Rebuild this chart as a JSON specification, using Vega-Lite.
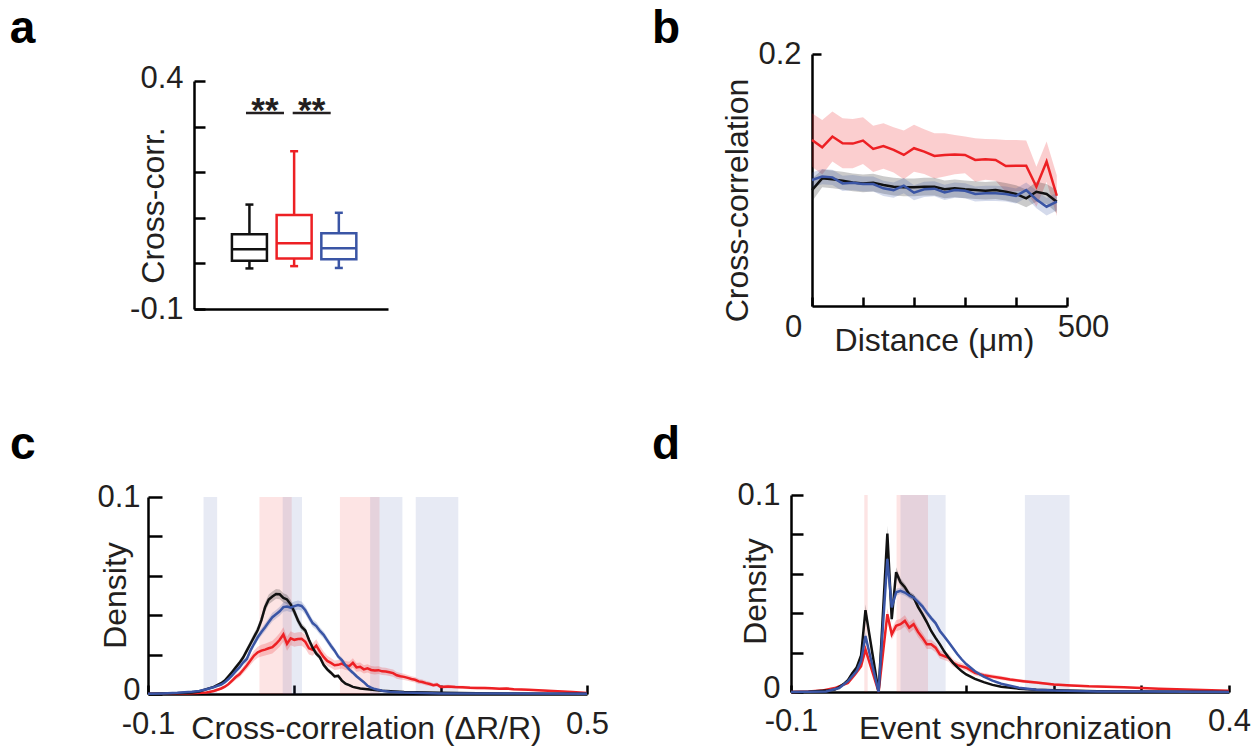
{
"$schema": "https://vega.github.io/schema/vega-lite/v6.json",
"width": 1259, "height": 753,
"autosize": {"type": "none"},
"padding": 0,
"background": "white",
"config": {
  "view": {"stroke": null},
  "font": "Liberation Sans",
  "axis": {"grid": false, "domainColor": "#000000", "domainWidth": 2.5, "tickColor": "#000000", "tickWidth": 2.5,
    "labelFont": "Liberation Sans", "labelFontSize": 31, "labelColor": "#231f20", "labelFlush": false, "labelOverlap": false, "labelBound": false,
    "titleFont": "Liberation Sans", "titleFontSize": 32, "titleFontWeight": "normal", "titleColor": "#231f20", "titleBaseline": "alphabetic"}
},
"datasets": {
  "boxes": [
    {"g": "ctrl", "pos": 1, "lo": -0.011, "q1": 0.006, "med": 0.031, "q3": 0.064, "hi": 0.129},
    {"g": "A", "pos": 2, "lo": -0.006, "q1": 0.011, "med": 0.044, "q3": 0.106, "hi": 0.246},
    {"g": "B", "pos": 3, "lo": -0.010, "q1": 0.009, "med": 0.033, "q3": 0.066, "hi": 0.111}
  ],
  "sig": [
    {"x1": 0.923, "x2": 1.773, "y": 0.33, "xm": 1.348, "label": "**"},
    {"x1": 1.968, "x2": 2.818, "y": 0.33, "xm": 2.393, "label": "**"}
  ],
  "bdist": [
    {"g":"A","x":0,"m":0.1318,"se":0.0212},{"g":"A","x":20,"m":0.126,"se":0.0217},{"g":"A","x":40,"m":0.1345,"se":0.0199},{"g":"A","x":60,"m":0.1292,"se":0.0199},{"g":"A","x":80,"m":0.1289,"se":0.0196},{"g":"A","x":100,"m":0.1313,"se":0.0186},{"g":"A","x":120,"m":0.1247,"se":0.0183},{"g":"A","x":140,"m":0.127,"se":0.0181},{"g":"A","x":160,"m":0.1239,"se":0.018},{"g":"A","x":180,"m":0.1199,"se":0.0194},{"g":"A","x":200,"m":0.1252,"se":0.0186},{"g":"A","x":220,"m":0.1225,"se":0.0178},{"g":"A","x":240,"m":0.1191,"se":0.018},{"g":"A","x":260,"m":0.1199,"se":0.0172},{"g":"A","x":280,"m":0.1202,"se":0.0156},{"g":"A","x":300,"m":0.1199,"se":0.0146},{"g":"A","x":320,"m":0.1159,"se":0.0173},{"g":"A","x":340,"m":0.1164,"se":0.0162},{"g":"A","x":360,"m":0.1159,"se":0.0165},{"g":"A","x":380,"m":0.1111,"se":0.0207},{"g":"A","x":400,"m":0.1114,"se":0.0204},{"g":"A","x":420,"m":0.1114,"se":0.0199},{"g":"A","x":440,"m":0.0947,"se":0.0159},{"g":"A","x":460,"m":0.1146,"se":0.0159},{"g":"A","x":480,"m":0.0875,"se":0.016},
    {"g":"ctrl","x":0,"m":0.092,"se":0.009},{"g":"ctrl","x":20,"m":0.1013,"se":0.007},{"g":"ctrl","x":40,"m":0.1005,"se":0.007},{"g":"ctrl","x":60,"m":0.0995,"se":0.007},{"g":"ctrl","x":80,"m":0.0981,"se":0.007},{"g":"ctrl","x":100,"m":0.0973,"se":0.007},{"g":"ctrl","x":120,"m":0.0979,"se":0.007},{"g":"ctrl","x":140,"m":0.096,"se":0.007},{"g":"ctrl","x":160,"m":0.0947,"se":0.007},{"g":"ctrl","x":180,"m":0.0942,"se":0.007},{"g":"ctrl","x":200,"m":0.0942,"se":0.007},{"g":"ctrl","x":220,"m":0.0947,"se":0.007},{"g":"ctrl","x":240,"m":0.0947,"se":0.007},{"g":"ctrl","x":260,"m":0.0926,"se":0.007},{"g":"ctrl","x":280,"m":0.0934,"se":0.007},{"g":"ctrl","x":300,"m":0.0926,"se":0.007},{"g":"ctrl","x":320,"m":0.092,"se":0.007},{"g":"ctrl","x":340,"m":0.0915,"se":0.007},{"g":"ctrl","x":360,"m":0.092,"se":0.007},{"g":"ctrl","x":380,"m":0.0907,"se":0.007},{"g":"ctrl","x":400,"m":0.0889,"se":0.007},{"g":"ctrl","x":420,"m":0.0854,"se":0.007},{"g":"ctrl","x":440,"m":0.0907,"se":0.008},{"g":"ctrl","x":460,"m":0.0889,"se":0.008},{"g":"ctrl","x":480,"m":0.0828,"se":0.009},
    {"g":"B","x":0,"m":0.1,"se":0.006},{"g":"B","x":20,"m":0.1027,"se":0.006},{"g":"B","x":40,"m":0.1021,"se":0.006},{"g":"B","x":60,"m":0.0973,"se":0.006},{"g":"B","x":80,"m":0.0979,"se":0.006},{"g":"B","x":100,"m":0.0968,"se":0.006},{"g":"B","x":120,"m":0.0968,"se":0.006},{"g":"B","x":140,"m":0.0934,"se":0.006},{"g":"B","x":160,"m":0.092,"se":0.006},{"g":"B","x":180,"m":0.0955,"se":0.006},{"g":"B","x":200,"m":0.0899,"se":0.006},{"g":"B","x":220,"m":0.0926,"se":0.006},{"g":"B","x":240,"m":0.0931,"se":0.006},{"g":"B","x":260,"m":0.0902,"se":0.006},{"g":"B","x":280,"m":0.092,"se":0.006},{"g":"B","x":300,"m":0.0915,"se":0.006},{"g":"B","x":320,"m":0.0889,"se":0.006},{"g":"B","x":340,"m":0.0894,"se":0.006},{"g":"B","x":360,"m":0.0894,"se":0.006},{"g":"B","x":380,"m":0.0889,"se":0.006},{"g":"B","x":400,"m":0.0873,"se":0.006},{"g":"B","x":420,"m":0.092,"se":0.006},{"g":"B","x":440,"m":0.0846,"se":0.007},{"g":"B","x":460,"m":0.0788,"se":0.007},{"g":"B","x":480,"m":0.0828,"se":0.007}
  ],
  "cspans": [
    {"g":"B","x0":-0.0241,"x1":-0.0055},{"g":"A","x0":0.0523,"x1":0.0964},{"g":"B","x0":0.0841,"x1":0.1105},
    {"g":"A","x0":0.1623,"x1":0.2164},{"g":"B","x0":0.2036,"x1":0.2477},{"g":"B","x0":0.2659,"x1":0.3241}
  ],
  "dspans": [
    {"g":"A","x0":-0.0163,"x1":-0.0125},{"g":"A","x0":0.0205,"x1":0.0564},{"g":"B","x0":0.025,"x1":0.0765},{"g":"B","x0":0.167,"x1":0.218}
  ],
  "cdens": [
    {"g":"A","x":-0.1,"m":0.0001,"se":0.0002},{"g":"A","x":-0.06,"m":0.0002,"se":0.0002},{"g":"A","x":-0.04,"m":0.0004,"se":0.0003},{"g":"A","x":-0.02,"m":0.0008,"se":0.0004},{"g":"A","x":-0.01,"m":0.0015,"se":0.0005},{"g":"A","x":0,"m":0.0028,"se":0.0007},{"g":"A","x":0.005,"m":0.0037,"se":0.0008},{"g":"A","x":0.01,"m":0.005,"se":0.001},{"g":"A","x":0.015,"m":0.0068,"se":0.0012},{"g":"A","x":0.02,"m":0.0086,"se":0.0014},{"g":"A","x":0.025,"m":0.01,"se":0.0016},{"g":"A","x":0.03,"m":0.0122,"se":0.0018},{"g":"A","x":0.035,"m":0.0145,"se":0.002},{"g":"A","x":0.04,"m":0.017,"se":0.0023},{"g":"A","x":0.045,"m":0.0195,"se":0.0026},{"g":"A","x":0.05,"m":0.0212,"se":0.0028},{"g":"A","x":0.055,"m":0.022,"se":0.003},{"g":"A","x":0.06,"m":0.0225,"se":0.003},{"g":"A","x":0.065,"m":0.0232,"se":0.0031},{"g":"A","x":0.07,"m":0.0238,"se":0.0032},{"g":"A","x":0.075,"m":0.0255,"se":0.0033},{"g":"A","x":0.08,"m":0.0275,"se":0.0035},{"g":"A","x":0.085,"m":0.0302,"se":0.0037},{"g":"A","x":0.09,"m":0.0255,"se":0.0035},{"g":"A","x":0.095,"m":0.0283,"se":0.0035},{"g":"A","x":0.1,"m":0.0275,"se":0.0035},{"g":"A","x":0.105,"m":0.0279,"se":0.0035},{"g":"A","x":0.11,"m":0.028,"se":0.0035},{"g":"A","x":0.115,"m":0.0265,"se":0.0034},{"g":"A","x":0.12,"m":0.0232,"se":0.0032},{"g":"A","x":0.125,"m":0.0225,"se":0.0031},{"g":"A","x":0.13,"m":0.0246,"se":0.0032},{"g":"A","x":0.135,"m":0.0215,"se":0.003},{"g":"A","x":0.14,"m":0.0188,"se":0.0028},{"g":"A","x":0.145,"m":0.0168,"se":0.0026},{"g":"A","x":0.15,"m":0.0158,"se":0.0025},{"g":"A","x":0.155,"m":0.0146,"se":0.0024},{"g":"A","x":0.16,"m":0.0148,"se":0.0024},{"g":"A","x":0.165,"m":0.0154,"se":0.0024},{"g":"A","x":0.17,"m":0.0145,"se":0.0023},{"g":"A","x":0.175,"m":0.0141,"se":0.0023},{"g":"A","x":0.18,"m":0.0158,"se":0.0024},{"g":"A","x":0.185,"m":0.0135,"se":0.0022},{"g":"A","x":0.19,"m":0.0138,"se":0.0022},{"g":"A","x":0.195,"m":0.0125,"se":0.0021},{"g":"A","x":0.2,"m":0.013,"se":0.0021},{"g":"A","x":0.205,"m":0.0122,"se":0.002},{"g":"A","x":0.21,"m":0.0119,"se":0.002},{"g":"A","x":0.215,"m":0.0121,"se":0.002},{"g":"A","x":0.22,"m":0.0115,"se":0.0019},{"g":"A","x":0.225,"m":0.0114,"se":0.0019},{"g":"A","x":0.23,"m":0.011,"se":0.0018},{"g":"A","x":0.235,"m":0.0106,"se":0.0018},{"g":"A","x":0.24,"m":0.0095,"se":0.0017},{"g":"A","x":0.245,"m":0.009,"se":0.0016},{"g":"A","x":0.25,"m":0.0087,"se":0.0016},{"g":"A","x":0.255,"m":0.0082,"se":0.0015},{"g":"A","x":0.26,"m":0.0076,"se":0.0014},{"g":"A","x":0.265,"m":0.0072,"se":0.0014},{"g":"A","x":0.27,"m":0.0064,"se":0.0013},{"g":"A","x":0.275,"m":0.0061,"se":0.0012},{"g":"A","x":0.28,"m":0.0055,"se":0.0012},{"g":"A","x":0.285,"m":0.0051,"se":0.0011},{"g":"A","x":0.29,"m":0.0045,"se":0.001},{"g":"A","x":0.295,"m":0.0048,"se":0.001},{"g":"A","x":0.3,"m":0.0036,"se":0.0009},{"g":"A","x":0.31,"m":0.0038,"se":0.0009},{"g":"A","x":0.32,"m":0.0035,"se":0.0008},{"g":"A","x":0.33,"m":0.0034,"se":0.0008},{"g":"A","x":0.34,"m":0.0032,"se":0.0008},{"g":"A","x":0.35,"m":0.0031,"se":0.0007},{"g":"A","x":0.36,"m":0.003,"se":0.0007},{"g":"A","x":0.37,"m":0.0029,"se":0.0007},{"g":"A","x":0.38,"m":0.0027,"se":0.0006},{"g":"A","x":0.39,"m":0.0028,"se":0.0006},{"g":"A","x":0.4,"m":0.0024,"se":0.0006},{"g":"A","x":0.42,"m":0.0021,"se":0.0005},{"g":"A","x":0.44,"m":0.0018,"se":0.0005},{"g":"A","x":0.46,"m":0.0014,"se":0.0004},{"g":"A","x":0.48,"m":0.001,"se":0.0004},{"g":"A","x":0.5,"m":0.0005,"se":0.0003},
    {"g":"ctrl","x":-0.1,"m":0.0001,"se":0.0002},{"g":"ctrl","x":-0.08,"m":0.0002,"se":0.0002},{"g":"ctrl","x":-0.06,"m":0.0004,"se":0.0002},{"g":"ctrl","x":-0.04,"m":0.0008,"se":0.0003},{"g":"ctrl","x":-0.03,"m":0.0013,"se":0.0004},{"g":"ctrl","x":-0.02,"m":0.0025,"se":0.0005},{"g":"ctrl","x":-0.01,"m":0.0036,"se":0.0006},{"g":"ctrl","x":0,"m":0.0055,"se":0.0008},{"g":"ctrl","x":0.005,"m":0.0068,"se":0.0009},{"g":"ctrl","x":0.01,"m":0.009,"se":0.001},{"g":"ctrl","x":0.015,"m":0.0112,"se":0.0011},{"g":"ctrl","x":0.02,"m":0.0135,"se":0.0012},{"g":"ctrl","x":0.025,"m":0.0158,"se":0.0013},{"g":"ctrl","x":0.03,"m":0.0185,"se":0.0014},{"g":"ctrl","x":0.035,"m":0.022,"se":0.0016},{"g":"ctrl","x":0.04,"m":0.0255,"se":0.0018},{"g":"ctrl","x":0.045,"m":0.029,"se":0.002},{"g":"ctrl","x":0.05,"m":0.0325,"se":0.0021},{"g":"ctrl","x":0.055,"m":0.0375,"se":0.0023},{"g":"ctrl","x":0.06,"m":0.0441,"se":0.0024},{"g":"ctrl","x":0.065,"m":0.048,"se":0.0025},{"g":"ctrl","x":0.07,"m":0.0495,"se":0.0025},{"g":"ctrl","x":0.075,"m":0.0508,"se":0.0025},{"g":"ctrl","x":0.08,"m":0.0506,"se":0.0025},{"g":"ctrl","x":0.085,"m":0.0488,"se":0.0024},{"g":"ctrl","x":0.09,"m":0.048,"se":0.0024},{"g":"ctrl","x":0.095,"m":0.0455,"se":0.0023},{"g":"ctrl","x":0.1,"m":0.0418,"se":0.0022},{"g":"ctrl","x":0.105,"m":0.0373,"se":0.002},{"g":"ctrl","x":0.11,"m":0.034,"se":0.0019},{"g":"ctrl","x":0.115,"m":0.0322,"se":0.0018},{"g":"ctrl","x":0.12,"m":0.0275,"se":0.0016},{"g":"ctrl","x":0.125,"m":0.0235,"se":0.0015},{"g":"ctrl","x":0.13,"m":0.0205,"se":0.0014},{"g":"ctrl","x":0.135,"m":0.0186,"se":0.0013},{"g":"ctrl","x":0.14,"m":0.0148,"se":0.0012},{"g":"ctrl","x":0.145,"m":0.0125,"se":0.0011},{"g":"ctrl","x":0.15,"m":0.0108,"se":0.001},{"g":"ctrl","x":0.155,"m":0.0089,"se":0.0009},{"g":"ctrl","x":0.16,"m":0.0092,"se":0.0009},{"g":"ctrl","x":0.165,"m":0.0068,"se":0.0008},{"g":"ctrl","x":0.17,"m":0.0052,"se":0.0007},{"g":"ctrl","x":0.175,"m":0.0045,"se":0.0006},{"g":"ctrl","x":0.18,"m":0.0036,"se":0.0005},{"g":"ctrl","x":0.19,"m":0.0028,"se":0.0004},{"g":"ctrl","x":0.2,"m":0.0024,"se":0.0004},{"g":"ctrl","x":0.22,"m":0.0016,"se":0.0003},{"g":"ctrl","x":0.25,"m":0.001,"se":0.0002},{"g":"ctrl","x":0.3,"m":0.0006,"se":0.0002},{"g":"ctrl","x":0.35,"m":0.0004,"se":0.0001},{"g":"ctrl","x":0.4,"m":0.0002,"se":0.0001},{"g":"ctrl","x":0.45,"m":0.0001,"se":0.0001},{"g":"ctrl","x":0.5,"m":0.0001,"se":0.0001},
    {"g":"B","x":-0.1,"m":0.0001,"se":0.0002},{"g":"B","x":-0.08,"m":0.0003,"se":0.0002},{"g":"B","x":-0.06,"m":0.0006,"se":0.0003},{"g":"B","x":-0.04,"m":0.0011,"se":0.0003},{"g":"B","x":-0.03,"m":0.0015,"se":0.0004},{"g":"B","x":-0.02,"m":0.0024,"se":0.0005},{"g":"B","x":-0.01,"m":0.0035,"se":0.0006},{"g":"B","x":0,"m":0.0048,"se":0.0007},{"g":"B","x":0.005,"m":0.006,"se":0.0008},{"g":"B","x":0.01,"m":0.0076,"se":0.0009},{"g":"B","x":0.015,"m":0.0095,"se":0.001},{"g":"B","x":0.02,"m":0.0116,"se":0.0011},{"g":"B","x":0.025,"m":0.0135,"se":0.0012},{"g":"B","x":0.03,"m":0.016,"se":0.0013},{"g":"B","x":0.035,"m":0.0178,"se":0.0014},{"g":"B","x":0.04,"m":0.022,"se":0.0016},{"g":"B","x":0.045,"m":0.0255,"se":0.0017},{"g":"B","x":0.05,"m":0.0288,"se":0.0018},{"g":"B","x":0.055,"m":0.0315,"se":0.0019},{"g":"B","x":0.06,"m":0.0339,"se":0.002},{"g":"B","x":0.065,"m":0.0365,"se":0.0021},{"g":"B","x":0.07,"m":0.039,"se":0.0022},{"g":"B","x":0.075,"m":0.0405,"se":0.0022},{"g":"B","x":0.08,"m":0.042,"se":0.0023},{"g":"B","x":0.085,"m":0.0441,"se":0.0023},{"g":"B","x":0.09,"m":0.0444,"se":0.0023},{"g":"B","x":0.095,"m":0.0438,"se":0.0023},{"g":"B","x":0.1,"m":0.0446,"se":0.0023},{"g":"B","x":0.105,"m":0.0452,"se":0.0023},{"g":"B","x":0.11,"m":0.0447,"se":0.0023},{"g":"B","x":0.115,"m":0.0425,"se":0.0022},{"g":"B","x":0.12,"m":0.0392,"se":0.0021},{"g":"B","x":0.125,"m":0.036,"se":0.002},{"g":"B","x":0.13,"m":0.0345,"se":0.002},{"g":"B","x":0.135,"m":0.032,"se":0.0019},{"g":"B","x":0.14,"m":0.03,"se":0.0018},{"g":"B","x":0.145,"m":0.0272,"se":0.0017},{"g":"B","x":0.15,"m":0.0245,"se":0.0016},{"g":"B","x":0.155,"m":0.022,"se":0.0015},{"g":"B","x":0.16,"m":0.019,"se":0.0014},{"g":"B","x":0.165,"m":0.0172,"se":0.0013},{"g":"B","x":0.17,"m":0.0145,"se":0.0012},{"g":"B","x":0.175,"m":0.0125,"se":0.0011},{"g":"B","x":0.18,"m":0.0108,"se":0.001},{"g":"B","x":0.185,"m":0.009,"se":0.0009},{"g":"B","x":0.19,"m":0.0075,"se":0.0008},{"g":"B","x":0.195,"m":0.006,"se":0.0007},{"g":"B","x":0.2,"m":0.0042,"se":0.0006},{"g":"B","x":0.205,"m":0.0032,"se":0.0005},{"g":"B","x":0.21,"m":0.0025,"se":0.0004},{"g":"B","x":0.22,"m":0.0017,"se":0.0003},{"g":"B","x":0.23,"m":0.0011,"se":0.0003},{"g":"B","x":0.25,"m":0.0007,"se":0.0002},{"g":"B","x":0.3,"m":0.0003,"se":0.0001},{"g":"B","x":0.4,"m":0.0002,"se":0.0001},{"g":"B","x":0.5,"m":0.0001,"se":0.0001}
  ],
  "ddens": [
    {"g":"A","x":-0.1,"m":0,"se":0.0001},{"g":"A","x":-0.08,"m":0.0002,"se":0.0001},{"g":"A","x":-0.065,"m":0.0007,"se":0.0002},{"g":"A","x":-0.05,"m":0.002,"se":0.0004},{"g":"A","x":-0.035,"m":0.0046,"se":0.0007},{"g":"A","x":-0.027,"m":0.0089,"se":0.001},{"g":"A","x":-0.02,"m":0.0131,"se":0.0013},{"g":"A","x":-0.015,"m":0.0216,"se":0.002},{"g":"A","x":0,"m":0,"se":0.0002},{"g":"A","x":0.01,"m":0.0395,"se":0.003},{"g":"A","x":0.015,"m":0.0293,"se":0.0028},{"g":"A","x":0.02,"m":0.0336,"se":0.0028},{"g":"A","x":0.025,"m":0.0344,"se":0.0028},{"g":"A","x":0.03,"m":0.0361,"se":0.0028},{"g":"A","x":0.035,"m":0.0327,"se":0.0027},{"g":"A","x":0.04,"m":0.0344,"se":0.0027},{"g":"A","x":0.045,"m":0.0305,"se":0.0026},{"g":"A","x":0.05,"m":0.0276,"se":0.0025},{"g":"A","x":0.055,"m":0.0242,"se":0.0024},{"g":"A","x":0.06,"m":0.0242,"se":0.0024},{"g":"A","x":0.065,"m":0.0225,"se":0.0023},{"g":"A","x":0.07,"m":0.0191,"se":0.0021},{"g":"A","x":0.08,"m":0.0174,"se":0.002},{"g":"A","x":0.085,"m":0.0148,"se":0.0018},{"g":"A","x":0.09,"m":0.0136,"se":0.0017},{"g":"A","x":0.1,"m":0.0123,"se":0.0015},{"g":"A","x":0.11,"m":0.0097,"se":0.0013},{"g":"A","x":0.12,"m":0.0085,"se":0.0012},{"g":"A","x":0.13,"m":0.0078,"se":0.0011},{"g":"A","x":0.14,"m":0.0071,"se":0.001},{"g":"A","x":0.15,"m":0.0063,"se":0.0009},{"g":"A","x":0.165,"m":0.0055,"se":0.0008},{"g":"A","x":0.18,"m":0.0048,"se":0.0007},{"g":"A","x":0.2,"m":0.0038,"se":0.0006},{"g":"A","x":0.22,"m":0.0033,"se":0.0006},{"g":"A","x":0.24,"m":0.0029,"se":0.0005},{"g":"A","x":0.26,"m":0.0027,"se":0.0005},{"g":"A","x":0.28,"m":0.0024,"se":0.0004},{"g":"A","x":0.3,"m":0.002,"se":0.0004},{"g":"A","x":0.32,"m":0.0017,"se":0.0003},{"g":"A","x":0.34,"m":0.0014,"se":0.0003},{"g":"A","x":0.36,"m":0.0012,"se":0.0003},{"g":"A","x":0.38,"m":0.0009,"se":0.0002},{"g":"A","x":0.4,"m":0.0006,"se":0.0002},
    {"g":"ctrl","x":-0.1,"m":0,"se":0.0001},{"g":"ctrl","x":-0.08,"m":0.0001,"se":0.0001},{"g":"ctrl","x":-0.06,"m":0.0007,"se":0.0002},{"g":"ctrl","x":-0.05,"m":0.0012,"se":0.0003},{"g":"ctrl","x":-0.045,"m":0.0025,"se":0.0004},{"g":"ctrl","x":-0.04,"m":0.004,"se":0.0006},{"g":"ctrl","x":-0.035,"m":0.006,"se":0.0008},{"g":"ctrl","x":-0.03,"m":0.0095,"se":0.001},{"g":"ctrl","x":-0.025,"m":0.0125,"se":0.0012},{"g":"ctrl","x":-0.02,"m":0.0185,"se":0.0015},{"g":"ctrl","x":-0.015,"m":0.0415,"se":0.003},{"g":"ctrl","x":0,"m":0,"se":0.0002},{"g":"ctrl","x":0.01,"m":0.0804,"se":0.004},{"g":"ctrl","x":0.015,"m":0.037,"se":0.002},{"g":"ctrl","x":0.02,"m":0.0608,"se":0.0025},{"g":"ctrl","x":0.025,"m":0.0557,"se":0.002},{"g":"ctrl","x":0.03,"m":0.0532,"se":0.0018},{"g":"ctrl","x":0.035,"m":0.0495,"se":0.0017},{"g":"ctrl","x":0.04,"m":0.048,"se":0.0016},{"g":"ctrl","x":0.045,"m":0.0432,"se":0.0015},{"g":"ctrl","x":0.05,"m":0.0395,"se":0.0014},{"g":"ctrl","x":0.055,"m":0.0355,"se":0.0013},{"g":"ctrl","x":0.06,"m":0.031,"se":0.0012},{"g":"ctrl","x":0.065,"m":0.0275,"se":0.0011},{"g":"ctrl","x":0.07,"m":0.0242,"se":0.001},{"g":"ctrl","x":0.075,"m":0.0205,"se":0.0009},{"g":"ctrl","x":0.08,"m":0.0175,"se":0.0008},{"g":"ctrl","x":0.085,"m":0.0148,"se":0.0007},{"g":"ctrl","x":0.09,"m":0.0125,"se":0.0006},{"g":"ctrl","x":0.095,"m":0.0105,"se":0.0006},{"g":"ctrl","x":0.1,"m":0.0089,"se":0.0005},{"g":"ctrl","x":0.11,"m":0.0067,"se":0.0004},{"g":"ctrl","x":0.12,"m":0.005,"se":0.0003},{"g":"ctrl","x":0.13,"m":0.0036,"se":0.0003},{"g":"ctrl","x":0.14,"m":0.0027,"se":0.0002},{"g":"ctrl","x":0.16,"m":0.0017,"se":0.0002},{"g":"ctrl","x":0.18,"m":0.0012,"se":0.0001},{"g":"ctrl","x":0.2,"m":0.0009,"se":0.0001},{"g":"ctrl","x":0.25,"m":0.0004,"se":0.0001},{"g":"ctrl","x":0.3,"m":0.0002,"se":0.0001},{"g":"ctrl","x":0.35,"m":0.0001,"se":0.0001},{"g":"ctrl","x":0.4,"m":0,"se":0.0001},
    {"g":"B","x":-0.1,"m":0,"se":0.0001},{"g":"B","x":-0.08,"m":0.0001,"se":0.0001},{"g":"B","x":-0.06,"m":0.0003,"se":0.0001},{"g":"B","x":-0.045,"m":0.002,"se":0.0003},{"g":"B","x":-0.035,"m":0.0055,"se":0.0006},{"g":"B","x":-0.025,"m":0.0106,"se":0.0009},{"g":"B","x":-0.02,"m":0.0157,"se":0.0012},{"g":"B","x":-0.015,"m":0.0284,"se":0.002},{"g":"B","x":0,"m":0,"se":0.0002},{"g":"B","x":0.01,"m":0.0676,"se":0.003},{"g":"B","x":0.015,"m":0.0429,"se":0.002},{"g":"B","x":0.02,"m":0.0506,"se":0.0018},{"g":"B","x":0.025,"m":0.0514,"se":0.0017},{"g":"B","x":0.03,"m":0.0505,"se":0.0017},{"g":"B","x":0.035,"m":0.049,"se":0.0016},{"g":"B","x":0.04,"m":0.048,"se":0.0016},{"g":"B","x":0.045,"m":0.0458,"se":0.0015},{"g":"B","x":0.05,"m":0.0435,"se":0.0015},{"g":"B","x":0.055,"m":0.0404,"se":0.0014},{"g":"B","x":0.06,"m":0.0375,"se":0.0013},{"g":"B","x":0.065,"m":0.035,"se":0.0013},{"g":"B","x":0.07,"m":0.031,"se":0.0012},{"g":"B","x":0.075,"m":0.0282,"se":0.0011},{"g":"B","x":0.08,"m":0.0252,"se":0.001},{"g":"B","x":0.085,"m":0.0222,"se":0.0009},{"g":"B","x":0.09,"m":0.0192,"se":0.0008},{"g":"B","x":0.095,"m":0.0165,"se":0.0007},{"g":"B","x":0.1,"m":0.0142,"se":0.0007},{"g":"B","x":0.11,"m":0.0105,"se":0.0006},{"g":"B","x":0.12,"m":0.0078,"se":0.0005},{"g":"B","x":0.13,"m":0.0058,"se":0.0004},{"g":"B","x":0.14,"m":0.0042,"se":0.0003},{"g":"B","x":0.16,"m":0.0022,"se":0.0002},{"g":"B","x":0.18,"m":0.0012,"se":0.0001},{"g":"B","x":0.2,"m":0.0008,"se":0.0001},{"g":"B","x":0.25,"m":0.0003,"se":0.0001},{"g":"B","x":0.3,"m":0.0002,"se":0.0001},{"g":"B","x":0.4,"m":0,"se":0.0001}
  ]
},
"resolve": {"scale": {"x": "independent", "y": "independent"}, "axis": {"x": "independent", "y": "independent"}},
"layer": [
  {
    "layer": [
      {"data": {"name": "boxes"}, "mark": {"type": "rule", "strokeWidth": 2.5},
       "encoding": {
         "x": {"field": "pos", "type": "quantitative", "scale": {"domain": [-0.24, 4.1], "range": [194, 388], "nice": false, "zero": false, "padding": 0},
               "axis": {"orient": "bottom", "offset": -444, "ticks": false, "labels": false, "title": null}},
         "y": {"field": "q3", "type": "quantitative", "scale": {"domain": [-0.1, 0.4], "range": [309, 81], "nice": false, "zero": false, "padding": 0},
               "axis": {"orient": "left", "offset": -194, "values": [-0.1, 0, 0.1, 0.2, 0.3, 0.4], "tickSize": -11, "labelPadding": 22,
                        "labelExpr": "datum.value > 0.35 ? '0.4' : datum.value < -0.05 ? '-0.1' : ''",
                        "labelOffset": {"condition": {"test": "datum.value > 0.35", "value": -3}, "value": 0},
                        "title": "Cross-corr.", "titleX": -31, "titleY": 205}},
         "y2": {"field": "hi"},
         "color": {"field": "g", "type": "nominal", "scale": {"domain": ["ctrl", "A", "B"], "range": ["#111111", "#ed2024", "#3a55a5"]}, "legend": null}}},
      {"data": {"name": "boxes"}, "mark": {"type": "rule", "strokeWidth": 2.5},
       "encoding": {"x": {"field": "pos", "type": "quantitative", "title": null}, "y": {"field": "lo", "type": "quantitative", "title": "Cross-corr."}, "y2": {"field": "q1"},
         "color": {"field": "g", "type": "nominal", "legend": null}}},
      {"data": {"name": "boxes"}, "mark": {"type": "bar", "orient": "vertical", "width": 35, "filled": false, "strokeWidth": 2.5},
       "encoding": {"x": {"field": "pos", "type": "quantitative", "title": null}, "y": {"field": "q1", "type": "quantitative", "title": "Cross-corr."}, "y2": {"field": "q3"},
         "color": {"field": "g", "type": "nominal", "legend": null}}},
      {"data": {"name": "boxes"}, "mark": {"type": "tick", "orient": "horizontal", "size": 35, "thickness": 2.5, "opacity": 1},
       "encoding": {"x": {"field": "pos", "type": "quantitative", "title": null}, "y": {"field": "med", "type": "quantitative", "title": "Cross-corr."},
         "color": {"field": "g", "type": "nominal", "legend": null}}},
      {"data": {"name": "boxes"}, "mark": {"type": "tick", "orient": "horizontal", "size": 8, "thickness": 2.5, "opacity": 1},
       "encoding": {"x": {"field": "pos", "type": "quantitative", "title": null}, "y": {"field": "hi", "type": "quantitative", "title": "Cross-corr."},
         "color": {"field": "g", "type": "nominal", "legend": null}}},
      {"data": {"name": "boxes"}, "mark": {"type": "tick", "orient": "horizontal", "size": 8, "thickness": 2.5, "opacity": 1},
       "encoding": {"x": {"field": "pos", "type": "quantitative", "title": null}, "y": {"field": "lo", "type": "quantitative", "title": "Cross-corr."},
         "color": {"field": "g", "type": "nominal", "legend": null}}},
      {"data": {"name": "sig"}, "mark": {"type": "rule", "strokeWidth": 2.5, "color": "#231f20"},
       "encoding": {"x": {"field": "x1", "type": "quantitative", "title": null}, "x2": {"field": "x2"}, "y": {"field": "y", "type": "quantitative", "title": "Cross-corr."}}},
      {"data": {"name": "sig"}, "mark": {"type": "text", "fontSize": 35, "fontWeight": "bold", "font": "Liberation Sans", "baseline": "alphabetic", "align": "center", "color": "#231f20"},
       "encoding": {"x": {"field": "xm", "type": "quantitative", "title": null}, "y": {"datum": 0.311, "type": "quantitative", "title": "Cross-corr."}, "text": {"field": "label"}}},
      {"data": {"values": [{"t": "a"}]}, "mark": {"type": "text", "fontSize": 46, "fontWeight": "bold", "font": "Liberation Sans", "align": "left", "baseline": "alphabetic", "color": "#000000"},
       "encoding": {"x": {"datum": -4.36, "type": "quantitative", "title": null}, "y": {"datum": 0.4833, "type": "quantitative", "title": "Cross-corr."}, "text": {"field": "t"}}}
    ]
  },
  {
    "data": {"name": "bdist"},
    "layer": [
      {"mark": {"type": "errorband", "band": {"opacity": 0.22}},
       "encoding": {
         "x": {"field": "x", "type": "quantitative", "scale": {"domain": [0, 500], "range": [812, 1067], "nice": false, "zero": false},
               "axis": {"orient": "bottom", "offset": -447, "values": [0, 100, 200, 300, 400, 500], "tickSize": -9, "labelPadding": 15,
                        "labelExpr": "datum.value < 50 ? '0' : datum.value > 450 ? '500' : ''",
                        "labelOffset": {"condition": {"test": "datum.value < 50", "value": -19}, "value": 16},
                        "title": "Distance (μm)", "titleX": 934, "titleY": 44}},
         "y": {"field": "m", "type": "quantitative", "scale": {"domain": [0, 0.2], "range": [306, 54], "nice": false, "zero": false},
               "axis": {"orient": "left", "offset": -812, "values": [0.2], "tickSize": -9, "labelPadding": 20,
                        "labelExpr": "'0.2'", "title": "Cross-correlation", "titleX": -65, "titleY": 200}},
         "yError": {"field": "se"},
         "color": {"field": "g", "type": "nominal", "legend": null}}},
      {"mark": {"type": "line", "strokeWidth": 2.5},
       "encoding": {"x": {"field": "x", "type": "quantitative", "title": "Distance (μm)"}, "y": {"field": "m", "type": "quantitative", "title": "Cross-correlation"},
         "color": {"field": "g", "type": "nominal", "legend": null}}},
      {"data": {"values": [{"t": "b"}]}, "mark": {"type": "text", "fontSize": 46, "fontWeight": "bold", "font": "Liberation Sans", "align": "left", "baseline": "alphabetic", "color": "#000000"},
       "encoding": {"x": {"datum": -313.7, "type": "quantitative", "title": "Distance (μm)"}, "y": {"datum": 0.2087, "type": "quantitative", "title": "Cross-correlation"}, "text": {"field": "t"}}}
    ]
  },
  {
    "layer": [
      {"data": {"name": "cspans"}, "mark": {"type": "rect", "opacity": 0.12},
       "encoding": {
         "x": {"field": "x0", "type": "quantitative", "scale": {"domain": [-0.1, 0.5], "range": [148, 587], "nice": false, "zero": false},
               "axis": {"orient": "bottom", "offset": -59, "values": [-0.1, 0.1, 0.3, 0.5], "tickSize": -9, "labelPadding": 24,
                        "labelExpr": "datum.value < -0.05 ? '-0.1' : datum.value > 0.45 ? '0.5' : ''",
                        "title": "Cross-correlation (ΔR/R)", "titleX": 366, "titleY": 44}},
         "x2": {"field": "x1"},
         "y": {"datum": 0, "type": "quantitative", "scale": {"domain": [0, 0.1], "range": [694, 497], "nice": false, "zero": false},
               "axis": {"orient": "left", "offset": -148, "values": [0, 0.02, 0.04, 0.06, 0.08, 0.1], "tickSize": -14, "labelPadding": 22,
                        "labelExpr": "datum.value > 0.09 ? '0.1' : datum.value < 0.001 ? '0' : ''",
                        "labelOffset": {"condition": {"test": "datum.value < 0.001", "value": -4}, "value": 0},
                        "title": "Density", "titleX": -23, "titleY": 595}},
         "y2": {"datum": 0.1},
         "color": {"field": "g", "type": "nominal", "legend": null}}},
      {"data": {"name": "cdens"}, "mark": {"type": "errorband", "band": {"opacity": 0.22}},
       "encoding": {"x": {"field": "x", "type": "quantitative", "title": "Cross-correlation (ΔR/R)"}, "y": {"field": "m", "type": "quantitative", "title": "Density"}, "yError": {"field": "se"},
         "color": {"field": "g", "type": "nominal", "legend": null}}},
      {"data": {"name": "cdens"}, "mark": {"type": "line", "strokeWidth": 2.5},
       "encoding": {"x": {"field": "x", "type": "quantitative", "title": "Cross-correlation (ΔR/R)"}, "y": {"field": "m", "type": "quantitative", "title": "Density"},
         "color": {"field": "g", "type": "nominal", "legend": null}}},
      {"data": {"values": [{"t": "c"}]}, "mark": {"type": "text", "fontSize": 46, "fontWeight": "bold", "font": "Liberation Sans", "align": "left", "baseline": "alphabetic", "color": "#000000"},
       "encoding": {"x": {"datum": -0.2886, "type": "quantitative", "title": "Cross-correlation (ΔR/R)"}, "y": {"datum": 0.1193, "type": "quantitative", "title": "Density"}, "text": {"field": "t"}}}
    ]
  },
  {
    "layer": [
      {"data": {"name": "dspans"}, "mark": {"type": "rect", "opacity": 0.12},
       "encoding": {
         "x": {"field": "x0", "type": "quantitative", "scale": {"domain": [-0.1, 0.4], "range": [791, 1229], "nice": false, "zero": false},
               "axis": {"orient": "bottom", "offset": -61, "values": [-0.1, 0.1, 0.2, 0.3, 0.4], "tickSize": -7, "labelPadding": 21,
                        "labelExpr": "datum.value < -0.05 ? '-0.1' : datum.value > 0.35 ? '0.4' : ''",
                        "title": "Event synchronization", "titleX": 1015, "titleY": 46}},
         "x2": {"field": "x1"},
         "y": {"datum": 0, "type": "quantitative", "scale": {"domain": [0, 0.1], "range": [692, 495], "nice": false, "zero": false},
               "axis": {"orient": "left", "offset": -791, "values": [0, 0.02, 0.04, 0.06, 0.08, 0.1], "tickSize": -12, "labelPadding": 23,
                        "labelExpr": "datum.value > 0.09 ? '0.1' : datum.value < 0.001 ? '0' : ''",
                        "labelOffset": {"condition": {"test": "datum.value < 0.001", "value": -4}, "value": 0},
                        "title": "Density", "titleX": -26, "titleY": 591}},
         "y2": {"datum": 0.1},
         "color": {"field": "g", "type": "nominal", "legend": null}}},
      {"data": {"name": "ddens"}, "mark": {"type": "errorband", "band": {"opacity": 0.22}},
       "encoding": {"x": {"field": "x", "type": "quantitative", "title": "Event synchronization"}, "y": {"field": "m", "type": "quantitative", "title": "Density"}, "yError": {"field": "se"},
         "color": {"field": "g", "type": "nominal", "legend": null}}},
      {"data": {"name": "ddens"}, "mark": {"type": "line", "strokeWidth": 2.5},
       "encoding": {"x": {"field": "x", "type": "quantitative", "title": "Event synchronization"}, "y": {"field": "m", "type": "quantitative", "title": "Density"},
         "color": {"field": "g", "type": "nominal", "legend": null}}},
      {"data": {"values": [{"t": "d"}]}, "mark": {"type": "text", "fontSize": 46, "fontWeight": "bold", "font": "Liberation Sans", "align": "left", "baseline": "alphabetic", "color": "#000000"},
       "encoding": {"x": {"datum": -0.2587, "type": "quantitative", "title": "Event synchronization"}, "y": {"datum": 0.1183, "type": "quantitative", "title": "Density"}, "text": {"field": "t"}}}
    ]
  }
]
}
